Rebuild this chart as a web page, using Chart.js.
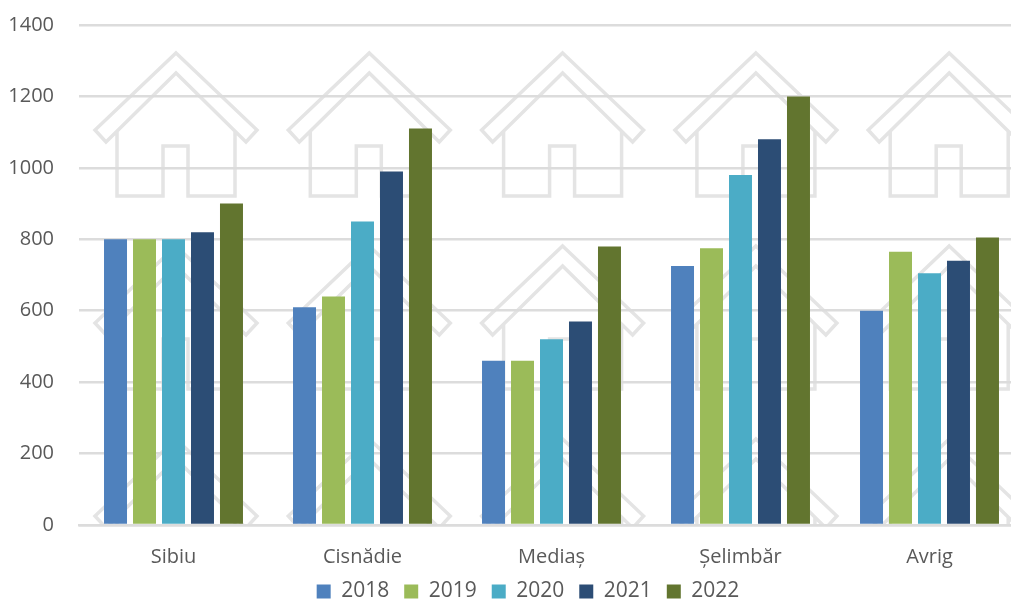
<!DOCTYPE html>
<html>
<head>
<meta charset="utf-8">
<style>
    html, body { margin: 0; padding: 0; background: #fff; overflow: hidden; }
    #wrap { width: 1011px; height: 599px; overflow: hidden; }
    canvas { display: block; }
</style>
<script src="https://cdn.jsdelivr.net/npm/chart.js@4"></script>
</head>
<body>
<div id="wrap"><canvas id="housesChart" width="1058" height="616"></canvas></div>
<script>
const cities = ["Sibiu", "Cisnădie", "Mediaș", "Șelimbăr", "Avrig"];
const years = ["2018", "2019", "2020", "2021", "2022"];
const values2018 = [800, 610, 460, 725, 600];
const values2019 = [800, 640, 460, 775, 765];
const values2020 = [800, 850, 520, 980, 705];
const values2021 = [820, 990, 570, 1080, 740];
const values2022 = [900, 1110, 780, 1200, 805];
const yearColors = ["#4f81bd", "#9bbb59", "#4bacc6", "#2c4d75", "#62752f"];

const textColor = "#595959";
const fontFamily = "'Open Sans', sans-serif";

// faded house icons tiled behind the plot
const housePattern = {
    id: "housePattern",
    beforeDraw(chart) {
        const { ctx, chartArea } = chart;
        ctx.save();
        ctx.beginPath();
        ctx.rect(chartArea.left, chartArea.top, chartArea.right - chartArea.left, chartArea.bottom - chartArea.top);
        ctx.clip();
        ctx.strokeStyle = "#e4e4e4";
        ctx.lineWidth = 3.5;
        ctx.lineJoin = "miter";
        for (let row = 0; row < 3; row++) {
            for (let col = 0; col < 5; col++) {
                const cx = 176 + col * 193.3;
                const top = 53 + row * 193;
                ctx.beginPath();
                ctx.moveTo(cx, top);
                ctx.lineTo(cx + 81, top + 77);
                ctx.lineTo(cx + 70, top + 89);
                ctx.lineTo(cx, top + 20);
                ctx.lineTo(cx - 70, top + 89);
                ctx.lineTo(cx - 81, top + 77);
                ctx.closePath();
                ctx.moveTo(cx - 59, top + 78);
                ctx.lineTo(cx - 59, top + 143);
                ctx.lineTo(cx - 13, top + 143);
                ctx.lineTo(cx - 13, top + 93);
                ctx.lineTo(cx + 12, top + 93);
                ctx.lineTo(cx + 12, top + 143);
                ctx.lineTo(cx + 59, top + 143);
                ctx.lineTo(cx + 59, top + 78);
                ctx.stroke();
            }
        }
        ctx.restore();
    }
};

// nudge the legend: it sits closer to the axis and further right than the layout puts it
const legendNudge = {
    id: "legendNudge",
    afterLayout(chart) {
        chart.legend.top -= 4;
        chart.legend.left += 12;
        chart.legend.right += 12;
    }
};

const seriesValues = [values2018, values2019, values2020, values2021, values2022];

new Chart(document.getElementById("housesChart").getContext("2d"), {
    type: "bar",
    plugins: [housePattern, legendNudge],
    data: {
        labels: cities,
        datasets: years.map((year, i) => ({
            label: year,
            data: seriesValues[i],
            backgroundColor: yearColors[i],
            categoryPercentage: 0.767,
            barPercentage: 0.793
        }))
    },
    options: {
        responsive: false,
        animation: false,
        layout: { padding: { top: 25, right: 34, left: 8 } },
        plugins: {
            tooltip: { enabled: false },
            legend: {
                position: "bottom",
                labels: {
                    color: textColor,
                    boxWidth: 14,
                    boxHeight: 14,
                    padding: 15,
                    font: { family: fontFamily, size: 21 }
                }
            }
        },
        scales: {
            x: {
                afterFit(scale) { scale.height = 45; },
                grid: { display: false },
                border: { color: "#dcdcdc", width: 2.5 },
                ticks: {
                    color: textColor,
                    padding: 12,
                    maxRotation: 0,
                    font: { family: fontFamily, size: 20 }
                }
            },
            y: {
                min: 0,
                max: 1400,
                afterFit(scale) { scale.width = 71; scale.paddingTop = 0; },
                grid: { color: "#dcdcdc", lineWidth: 2.5, drawTicks: false },
                border: { display: false },
                ticks: {
                    stepSize: 200,
                    color: textColor,
                    padding: 25,
                    font: { family: fontFamily, size: 20 },
                    callback: (value) => String(value)
                }
            }
        }
    }
});
</script>
</body>
</html>
